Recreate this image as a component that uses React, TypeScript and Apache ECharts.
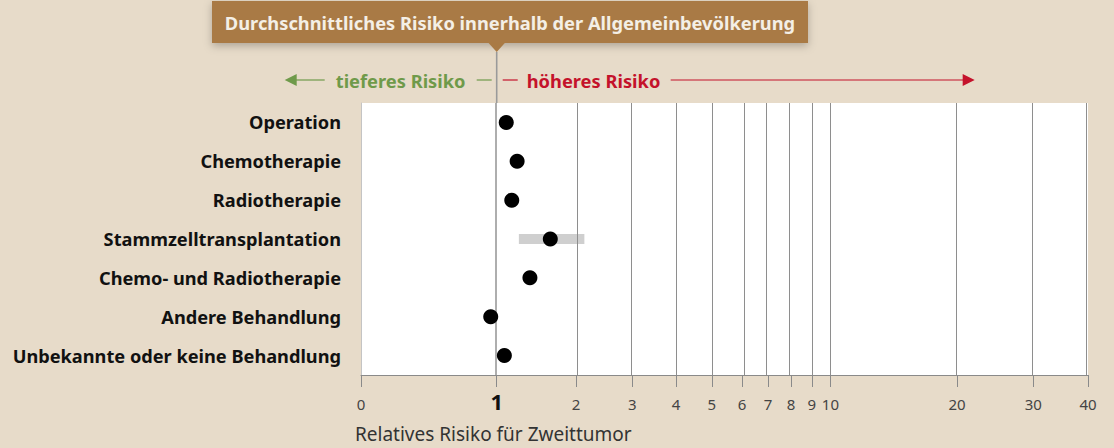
import React, { useEffect, useRef } from 'react';
import * as echarts from 'echarts';

const categories = [
  'Operation',
  'Chemotherapie',
  'Radiotherapie',
  'Stammzelltransplantation',
  'Chemo- und Radiotherapie',
  'Andere Behandlung',
  'Unbekannte oder keine Behandlung',
];
const riskValues = [1.1, 1.22, 1.16, 1.63, 1.37, 0.94, 1.08];
const intervalLow: (number | null)[] = [null, null, null, 1.24, null, null, null];
const intervalHigh: (number | null)[] = [null, null, null, 2.13, null, null, null];
const tickValues = [0, 1, 2, 3, 4, 5, 6, 7, 8, 9, 10, 20, 30, 40];
const gridLineValues = [2, 3, 4, 5, 6, 7, 8, 9, 10, 20, 30];
const referenceValue = 1;
const axisMax = 40;

const titleText = 'Durchschnittliches Risiko innerhalb der Allgemeinbevölkerung';
const lowerText = 'tieferes Risiko';
const higherText = 'höheres Risiko';
const axisTitle = 'Relatives Risiko für Zweittumor';

const tx = (v: number) => Math.log10(v + 1);
const inv = (t: number) => Math.round(Math.pow(10, t) - 1);

const BG = '#e7dbc9';
const FONT = '"Noto Sans"';

export default function App() {
  const ref = useRef<HTMLDivElement>(null);
  useEffect(() => {
    const chart = echarts.init(ref.current!, null, { renderer: 'svg' });
    const scatterData = riskValues.map((v, i) => [tx(v), i]);
    const ciData: any[] = [];
    intervalLow.forEach((lo, i) => {
      const hi = intervalHigh[i];
      if (lo != null && hi != null) ciData.push([tx(lo), tx(hi), i]);
    });
    const option: any = {
      animation: false,
      backgroundColor: BG,
      grid: {
        left: 361,
        right: 26,
        top: 103,
        bottom: 73,
        containLabel: false,
        outerBoundsMode: 'none',
        show: true,
        backgroundColor: '#ffffff',
        borderWidth: 0,
      },
      xAxis: {
        type: 'value',
        min: 0,
        max: tx(axisMax),
        splitLine: { show: false },
        axisLine: { show: true, lineStyle: { color: '#8a8a8a', width: 1 } },
        axisTick: {
          show: true,
          inside: false,
          length: 12,
          customValues: tickValues.map(tx),
          lineStyle: { color: '#8a8a8a', width: 1 },
        },
        axisLabel: {
          show: true,
          customValues: tickValues.map(tx),
          margin: 29,
          verticalAlign: 'middle',
          fontFamily: FONT,
          fontSize: 15,
          color: '#444',
          formatter: (val: number) => {
            const n = inv(val);
            return n === referenceValue ? '{b|' + n + '}' : String(n);
          },
          rich: {
            b: {
              fontFamily: FONT,
              fontSize: 22,
              fontWeight: 'bold',
              color: '#111',
              padding: [0, 0, 7, 0],
            },
          },
        },
      },
      yAxis: {
        type: 'category',
        data: categories,
        inverse: true,
        axisLine: { show: true, lineStyle: { color: '#c4c4c4', width: 1 } },
        axisTick: { show: false },
        splitLine: { show: false },
        axisLabel: {
          margin: 20,
          fontFamily: FONT,
          fontSize: 18.2,
          fontWeight: 'bold',
          color: '#111',
        },
      },
      series: [
        {
          type: 'custom',
          data: ciData,
          z: 3,
          renderItem: (params: any, api: any) => {
            const a = api.coord([api.value(0), api.value(2)]);
            const b = api.coord([api.value(1), api.value(2)]);
            const h = 10;
            return {
              type: 'rect',
              shape: { x: a[0], y: a[1] - h / 2, width: b[0] - a[0], height: h },
              style: { fill: '#cfcfcf' },
            };
          },
        },
        {
          type: 'scatter',
          data: scatterData,
          symbolSize: 15,
          z: 5,
          itemStyle: { color: '#000000', opacity: 1 },
          markLine: {
            silent: true,
            symbol: ['none', 'none'],
            label: { show: false },
            data: [
              ...gridLineValues.map((v) => ({
                xAxis: tx(v),
                lineStyle: { color: '#8e8e8e', width: 1, type: 'solid' },
              })),
              { xAxis: tx(axisMax), lineStyle: { color: '#8e8e8e', width: 1, type: 'solid' } },
              { xAxis: tx(referenceValue), lineStyle: { color: '#9a9a9a', width: 1.6, type: 'solid' } },
            ],
          },
        },
      ],
    };
    chart.setOption(option);

    const xr = chart.convertToPixel({ xAxisIndex: 0 } as any, tx(referenceValue)) as number;
    const arrowY = 80;
    const green = '#6f9a4a';
    const red = '#c4122b';
    const labelStyle = { fontFamily: FONT, fontSize: 18.3, fontWeight: 'bold', textVerticalAlign: 'middle' };
    chart.setOption({
      graphic: [
        {
          type: 'rect',
          shape: { x: 212, y: 1, width: 596, height: 42 },
          style: { fill: '#a97a44', shadowBlur: 8, shadowColor: 'rgba(0,0,0,0.25)', shadowOffsetY: 3 },
          z: 10,
        },
        {
          type: 'polygon',
          shape: { points: [[xr - 9, 42], [xr + 9, 42], [xr, 52]] },
          style: { fill: '#a97a44' },
          z: 10,
        },
        {
          type: 'text',
          x: 510,
          y: 22,
          style: { ...labelStyle, text: titleText, fill: '#f4efe6', textAlign: 'center' },
          z: 11,
        },
        {
          type: 'line',
          shape: { x1: xr, y1: 52, x2: xr, y2: 103 },
          style: { stroke: '#9a9a9a', lineWidth: 1.6 },
          z: 9,
        },
        // lower risk arrow (green)
        {
          type: 'polygon',
          shape: { points: [[xr - 212, arrowY], [xr - 200, arrowY - 6], [xr - 200, arrowY + 6]] },
          style: { fill: green },
        },
        {
          type: 'line',
          shape: { x1: xr - 201, y1: arrowY, x2: xr - 172, y2: arrowY },
          style: { stroke: green, lineWidth: 1.2 },
        },
        {
          type: 'text',
          x: xr - 161,
          y: arrowY,
          style: { ...labelStyle, text: lowerText, fill: green, textAlign: 'left' },
        },
        {
          type: 'line',
          shape: { x1: xr - 20, y1: arrowY, x2: xr - 5, y2: arrowY },
          style: { stroke: green, lineWidth: 1.2 },
        },
        // higher risk arrow (red)
        {
          type: 'line',
          shape: { x1: xr + 6, y1: arrowY, x2: xr + 21, y2: arrowY },
          style: { stroke: red, lineWidth: 1.2 },
        },
        {
          type: 'text',
          x: xr + 30,
          y: arrowY,
          style: { ...labelStyle, text: higherText, fill: red, textAlign: 'left' },
        },
        {
          type: 'line',
          shape: { x1: xr + 174, y1: arrowY, x2: xr + 467, y2: arrowY },
          style: { stroke: red, lineWidth: 1.2 },
        },
        {
          type: 'polygon',
          shape: { points: [[xr + 478, arrowY], [xr + 466, arrowY - 6], [xr + 466, arrowY + 6]] },
          style: { fill: red },
        },
        {
          type: 'text',
          x: 355,
          y: 434,
          style: {
            text: axisTitle,
            fill: '#333',
            fontFamily: FONT,
            fontSize: 19,
            textAlign: 'left',
            textVerticalAlign: 'middle',
          },
        },
      ],
    });
    return () => chart.dispose();
  }, []);
  return (
    <div
      ref={ref}
      style={{ position: 'absolute', left: 0, top: 0, width: 1114, height: 448, background: BG }}
    />
  );
}
